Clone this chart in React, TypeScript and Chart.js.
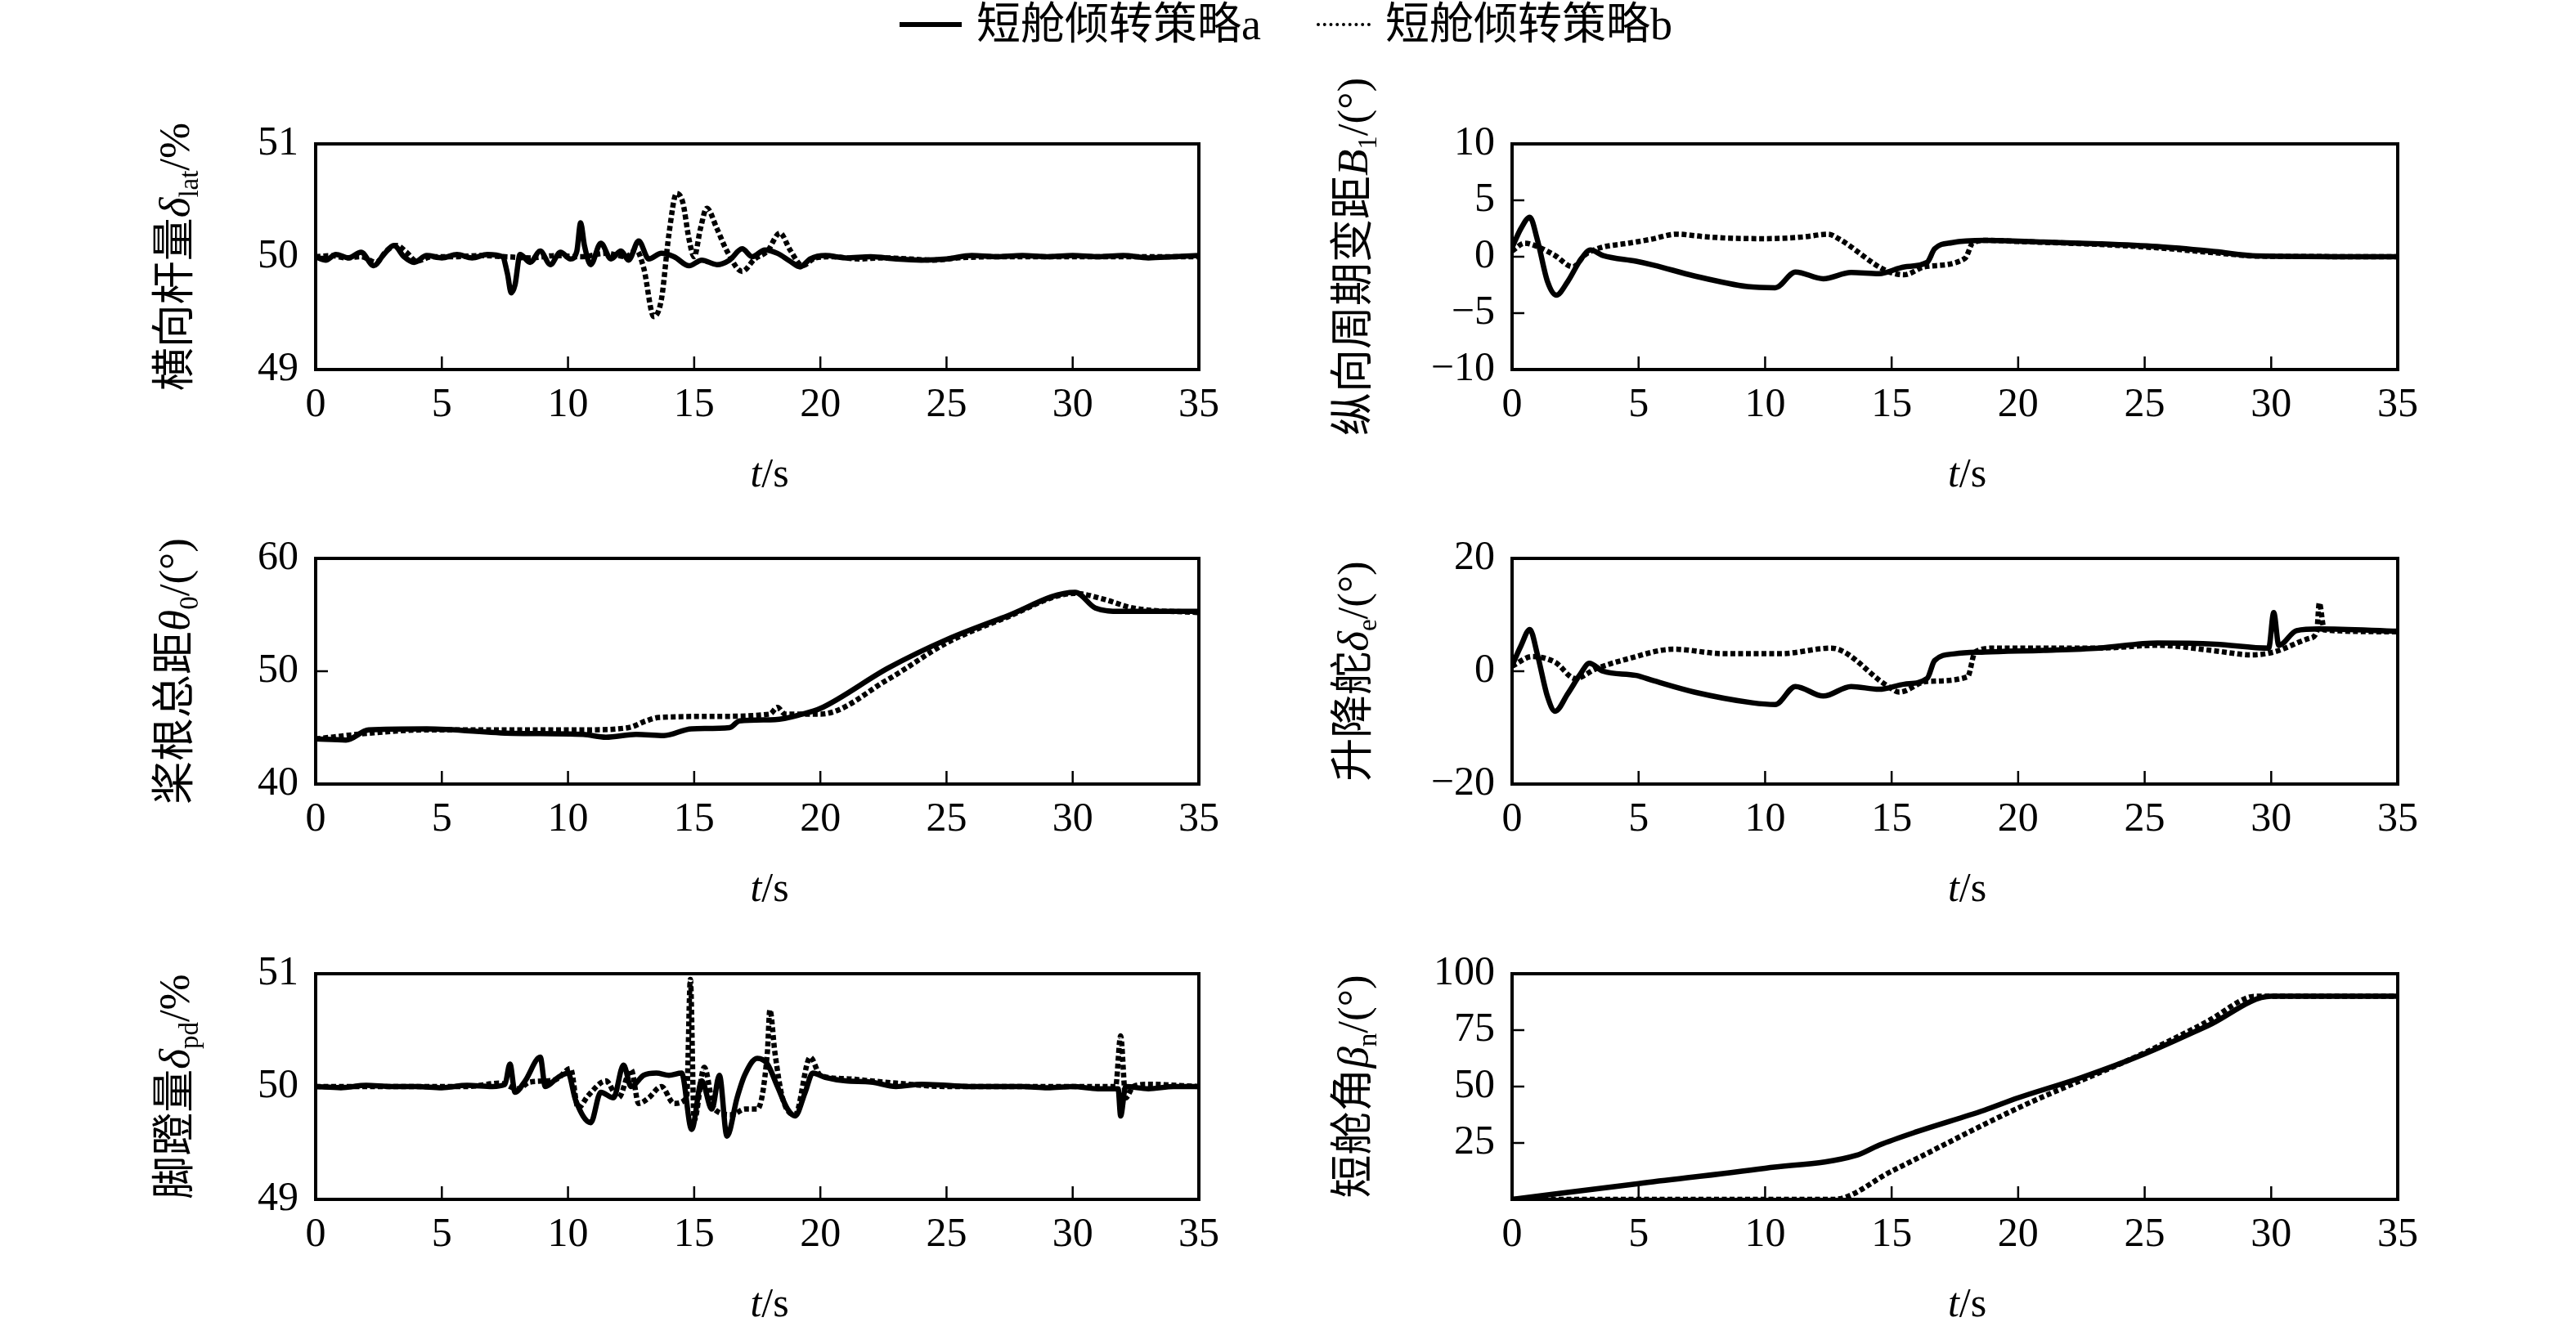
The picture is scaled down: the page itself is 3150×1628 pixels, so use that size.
import React, { useEffect, useRef } from 'react';
import { Chart, registerables } from 'chart.js';

Chart.register(...registerables);

// legend names
const NAME_A = '短舱倾转策略a';
const NAME_B = '短舱倾转策略b';

// 横向杆量 δlat (%) : [t, value]
const latA: [number, number][] = [
  [0, 50.0], [0.4, 49.97], [0.8, 50.02], [1.3, 49.99], [1.8, 50.04], [2.3, 49.92], [2.7, 50.02], [3.1, 50.1],
  [3.5, 50.0], [3.9, 49.95], [4.4, 50.01], [5, 49.99], [5.6, 50.02], [6.2, 49.99], [6.8, 50.02], [7.4, 50.0],
  [7.6, 49.85], [7.75, 49.68], [7.9, 49.75], [8.1, 50.02], [8.5, 49.95], [8.9, 50.05], [9.3, 49.93], [9.7, 50.04],
  [10.1, 49.98], [10.35, 50.05], [10.5, 50.3], [10.65, 50.1], [10.9, 49.93], [11.3, 50.12], [11.7, 49.98],
  [12.1, 50.05], [12.4, 49.97], [12.8, 50.14], [13.2, 49.98], [13.7, 50.03], [14.2, 50.0], [14.8, 49.92],
  [15.3, 49.97], [15.9, 49.93], [16.4, 49.97], [16.9, 50.07], [17.3, 50.0], [17.8, 50.06], [18.3, 50.03],
  [18.8, 49.96], [19.2, 49.91], [19.6, 49.98], [20.2, 50.01], [21, 49.99], [22, 50.0], [23, 49.98], [24, 49.97],
  [25, 49.98], [26, 50.01], [27, 50.0], [28, 50.01], [29, 50.0], [30, 50.01], [31, 50.0], [32, 50.01],
  [33, 49.99], [34, 50.0], [35, 50.01],
];
const latB: [number, number][] = [
  [0, 50.0], [0.6, 50.01], [1.2, 49.99], [1.8, 50.0], [2.4, 49.95], [2.8, 50.05], [3.2, 50.1], [3.6, 50.04],
  [4, 49.96], [4.6, 50.0], [5.5, 50.0], [6.5, 50.01], [7.5, 50.0], [8.5, 49.99], [9.5, 50.01], [10.5, 50.0],
  [11.5, 50.03], [12.3, 50.0], [12.7, 50.06], [13.0, 49.9], [13.4, 49.47], [13.7, 49.62], [14.0, 50.2],
  [14.3, 50.56], [14.55, 50.48], [14.8, 50.15], [15.0, 50.0], [15.25, 50.25], [15.5, 50.43], [15.9, 50.25],
  [16.3, 50.05], [16.9, 49.87], [17.4, 49.98], [17.9, 50.05], [18.4, 50.21], [18.8, 50.06], [19.3, 49.92],
  [19.8, 49.99], [20.5, 50.0], [21.5, 49.98], [22.5, 49.99], [23.5, 49.98], [24.5, 49.97], [25.5, 49.99],
  [27, 50.0], [29, 50.0], [31, 50.0], [33, 50.0], [35, 50.0],
];

// 纵向周期变距 B1 (°)
const b1A: [number, number][] = [
  [0, 0.8], [0.35, 2.5], [0.7, 3.5], [1.0, 1.5], [1.4, -2.2], [1.75, -3.4], [2.2, -2.2], [2.7, -0.3],
  [3.1, 0.6], [3.6, 0.1], [4.9, -0.4], [5.6, -0.75], [7.2, -1.7], [9.3, -2.65], [10.4, -2.75], [11.2, -1.35],
  [12.3, -1.95], [13.4, -1.4], [14.5, -1.5], [15.5, -0.9], [16.4, -0.5], [16.7, 0.7], [17.4, 1.25],
  [18.7, 1.45], [21, 1.3], [23.2, 1.15], [25.5, 0.9], [27.8, 0.45], [29.4, 0.08], [35, 0],
];
const b1B: [number, number][] = [
  [0, 0.5], [0.5, 1.2], [1.0, 0.9], [1.7, 0.1], [2.4, -0.9], [2.9, 0.2], [3.5, 0.8], [4.6, 1.2], [5.5, 1.55],
  [6.5, 2.0], [7.5, 1.8], [8.5, 1.65], [10, 1.6], [11.5, 1.75], [12.5, 2.0], [12.9, 1.6], [14.8, -1.25],
  [15.5, -1.6], [16.3, -0.9], [17.9, -0.15], [18.2, 1.2], [18.8, 1.45], [20, 1.35], [22, 1.2], [24, 1.0],
  [26, 0.7], [28, 0.3], [29.5, 0.05], [35, 0],
];

// 桨根总距 θ0 (°)
const colA: [number, number][] = [
  [0, 44.0], [1.2, 43.9], [2.1, 44.8], [4.4, 44.9], [7.8, 44.5], [10.6, 44.4], [11.5, 44.15], [12.7, 44.4],
  [13.8, 44.3], [14.9, 44.9], [16.4, 45.0], [16.8, 45.6], [18.2, 45.7], [19.3, 46.2], [20, 46.7], [22.7, 50.3],
  [25, 52.8], [27.3, 54.8], [30.1, 57.0], [30.9, 55.6], [31.9, 55.3], [35, 55.3],
];
const colB: [number, number][] = [
  [0, 44.0], [2.1, 44.5], [4.4, 44.8], [10.6, 44.8], [12.4, 45.0], [13.1, 45.6], [13.6, 45.9], [15.9, 46.0],
  [18.0, 46.2], [18.3, 46.8], [18.6, 46.2], [20, 46.2], [22.7, 49.3], [25, 52.5], [27.3, 54.7], [30.1, 56.9],
  [31.2, 56.4], [32.4, 55.6], [35, 55.2],
];

// 升降舵 δe (°)
const eleA: [number, number][] = [
  [0, 1.0], [0.35, 4.5], [0.7, 7.4], [1.0, 3.0], [1.4, -4.5], [1.7, -7.1], [2.2, -4.0], [2.7, -0.5],
  [3.05, 1.4], [3.6, 0], [4.9, -0.75], [5.6, -1.7], [7.2, -3.7], [9.5, -5.6], [10.4, -5.9], [11.2, -2.7],
  [12.3, -4.4], [13.4, -2.7], [14.5, -3.2], [15.5, -2.3], [16.4, -1.3], [16.7, 1.9], [17.5, 3.1], [18.7, 3.4],
  [21, 3.7], [23.2, 4.1], [25.5, 5.0], [27.8, 4.8], [29.9, 4.1], [30.1, 10.4], [30.3, 4.6], [31, 7.2],
  [31.9, 7.5], [35, 7.1],
];
const eleB: [number, number][] = [
  [0, 0.9], [0.8, 2.6], [1.7, 1.6], [2.5, -1.3], [3.3, 0.4], [4.5, 2.1], [6.4, 3.9], [8.4, 3.1], [10.6, 3.1],
  [12.6, 4.1], [14.8, -2.5], [15.3, -3.7], [16.4, -1.8], [18.0, -1.0], [18.3, 3.4], [19.1, 4.1], [23.2, 4.1],
  [25.5, 4.6], [27.8, 3.6], [29.2, 2.9], [30.1, 3.4], [31.5, 5.8], [31.8, 7.0], [31.9, 12.1], [32.1, 7.3],
  [35, 7.0],
];

// 脚蹬量 δpd (%)
const pedA: [number, number][] = [
  [0, 50.0], [1, 49.99], [2, 50.01], [3, 50.0], [4, 50.0], [5, 49.99], [6, 50.01], [7, 50.0], [7.5, 50.02],
  [7.7, 50.2], [7.9, 49.95], [8.3, 50.05], [8.9, 50.26], [9.1, 50.0], [9.6, 50.08], [10.0, 50.12],
  [10.3, 49.88], [10.9, 49.68], [11.3, 49.95], [11.8, 49.9], [12.2, 50.19], [12.5, 50.0], [13, 50.1],
  [13.5, 50.12], [14, 50.1], [14.5, 50.12], [14.9, 49.62], [15.3, 50.05], [15.7, 49.8], [16.0, 50.1],
  [16.3, 49.56], [16.7, 49.9], [17.0, 50.1], [17.5, 50.25], [17.9, 50.2], [18.3, 50.0], [18.7, 49.8],
  [19.0, 49.74], [19.4, 49.95], [19.7, 50.12], [20.2, 50.08], [21, 50.05], [22, 50.04], [23, 50.0],
  [24, 50.02], [25, 50.01], [26, 50.0], [27, 50.0], [28, 50.0], [29, 49.99], [30, 50.0], [31, 49.98],
  [31.8, 49.98], [31.9, 49.74], [32.1, 50.0], [33, 49.98], [34, 50.0], [35, 50.0],
];
const pedB: [number, number][] = [
  [0, 50.0], [2, 50.0], [4, 50.0], [6, 50.0], [7.3, 50.03], [8, 49.98], [8.5, 50.04], [9.5, 50.06],
  [10.1, 50.16], [10.4, 49.81], [10.8, 49.92], [11.5, 50.05], [12.0, 49.9], [12.5, 50.15], [12.8, 49.85],
  [13.2, 49.9], [13.7, 50.0], [14.2, 49.85], [14.7, 49.9], [14.85, 50.95], [15.0, 49.7], [15.4, 50.17],
  [15.8, 49.8], [16.5, 49.75], [17.0, 49.8], [17.5, 49.8], [17.9, 50.3], [18.0, 50.68], [18.2, 50.3],
  [18.5, 49.9], [19.0, 49.75], [19.6, 50.26], [20, 50.1], [21, 50.07], [22, 50.05], [23, 50.03], [25, 50.0],
  [28, 50.0], [30, 50.0], [31.7, 50.0], [31.9, 50.45], [32.1, 49.9], [32.4, 50.0], [33, 50.02], [35, 50.0],
];

// 短舱角 βn (°)
const nacA: [number, number][] = [
  [0, 0], [5, 7], [10, 13.8], [13.6, 19.5], [14.5, 24], [16, 30], [18.66, 39.5], [20, 45], [22.5, 54],
  [25, 64.5], [27.5, 77], [30, 90], [35, 90],
];
const nacB: [number, number][] = [
  [0, 0], [12.7, 0], [15, 12.5], [20, 40.5], [25, 65], [27.5, 79], [29.1, 89.5], [29.5, 90], [35, 90],
];

const X_MIN = 0;
const X_MAX = 35;
const X_STEP = 5;

type Seg = { t: string; it?: boolean; sub?: boolean };

const FONT = '"Liberation Serif", "Times New Roman", "Noto Sans CJK SC", serif';
const X_TITLE: Seg[] = [{ t: 't', it: true }, { t: '/s' }];

function segFont(s: Seg, size: number) {
  return `${s.it ? 'italic ' : ''}${s.sub ? Math.round(size * 0.62) : size}px ${FONT}`;
}

// draws a label made of plain / italic / subscript pieces
function drawRich(ctx: CanvasRenderingContext2D, segs: Seg[], cx: number, cy: number, rotate: boolean, size: number) {
  ctx.save();
  ctx.translate(cx, cy);
  if (rotate) ctx.rotate(-Math.PI / 2);
  ctx.fillStyle = '#000';
  ctx.textBaseline = 'middle';
  ctx.textAlign = 'left';
  let total = 0;
  const widths = segs.map((s) => {
    ctx.font = segFont(s, size);
    const w = ctx.measureText(s.t).width;
    total += w;
    return w;
  });
  let x = -total / 2;
  segs.forEach((s, i) => {
    ctx.font = segFont(s, size);
    ctx.fillText(s.t, x, s.sub ? size * 0.3 : 0);
    x += widths[i];
  });
  ctx.restore();
}

// box frame, inward ticks and the axis titles
const framePlugin = {
  id: 'frame',
  afterDraw(chart: any, _args: any, opts: any) {
    const { ctx, chartArea: a, scales } = chart;
    ctx.save();
    ctx.strokeStyle = '#000';
    ctx.lineWidth = 2.5;
    scales.x.ticks.forEach((t: any) => {
      const px = scales.x.getPixelForValue(t.value);
      ctx.beginPath();
      ctx.moveTo(px, a.bottom);
      ctx.lineTo(px, a.bottom - 16);
      ctx.stroke();
    });
    scales.y.ticks.forEach((t: any) => {
      const py = scales.y.getPixelForValue(t.value);
      ctx.beginPath();
      ctx.moveTo(a.left, py);
      ctx.lineTo(a.left + 15, py);
      ctx.stroke();
    });
    ctx.lineWidth = 4;
    ctx.strokeRect(a.left, a.top, a.right - a.left, a.bottom - a.top);
    ctx.restore();
    drawRich(ctx, opts.yTitle, opts.yTitleX, (a.top + a.bottom) / 2, true, 53);
    drawRich(ctx, X_TITLE, (a.left + a.right) / 2 + 15, a.bottom + 130, false, 50);
  },
};

const CANVAS_W = 1575;
const CANVAS_H = 560;

interface PanelProps {
  a: [number, number][];
  b: [number, number][];
  yMin: number;
  yMax: number;
  yStep: number;
  yTitle: Seg[];
  col: number;
  row: number;
  hideZero?: boolean;
}

function Panel({ a, b, yMin, yMax, yStep, yTitle, col, row, hideZero }: PanelProps) {
  const chartRef = useRef<HTMLCanvasElement | null>(null);

  useEffect(() => {
    if (!chartRef.current) return;
    const padLeft = col === 0 ? 266 : 154;
    const padRight = col === 0 ? 109 : 218;
    const chart = new Chart(chartRef.current, {
      type: 'line',
      data: {
        datasets: [
          {
            label: NAME_A,
            data: a.map(([x, y]) => ({ x, y })),
            borderColor: '#000',
            borderWidth: 6.5,
            pointRadius: 0,
            cubicInterpolationMode: 'monotone',
          },
          {
            label: NAME_B,
            data: b.map(([x, y]) => ({ x, y })),
            borderColor: '#000',
            borderWidth: 6.5,
            borderDash: [6, 3.5],
            pointRadius: 0,
            cubicInterpolationMode: 'monotone',
          },
        ],
      },
      options: {
        responsive: false,
        animation: false,
        devicePixelRatio: 1,
        layout: { padding: { left: padLeft, right: padRight, top: 96, bottom: 88 } },
        plugins: {
          legend: { display: false },
          tooltip: { enabled: false },
          // @ts-ignore
          frame: { yTitle, yTitleX: col === 0 ? 217 : 83 },
        },
        scales: {
          x: {
            type: 'linear',
            min: X_MIN,
            max: X_MAX,
            grid: { display: false, drawTicks: false },
            border: { display: false },
            ticks: {
              stepSize: X_STEP,
              padding: 14,
              color: '#000',
              font: { family: FONT, size: 50 },
              maxRotation: 0,
            },
            afterFit: (scale: any) => {
              scale.height = 100;
            },
          },
          y: {
            type: 'linear',
            min: yMin,
            max: yMax,
            grid: { display: false, drawTicks: false },
            border: { display: false },
            ticks: {
              stepSize: yStep,
              padding: 21,
              color: '#000',
              font: { family: FONT, size: 50 },
              callback: (v: any) => {
                const n = Number(v);
                if (hideZero && n === 0) return '';
                return n < 0 ? '\u2212' + Math.abs(n) : String(n);
              },
            },
            afterFit: (scale: any) => {
              scale.width = 120;
            },
          },
        },
      },
      plugins: [framePlugin],
    } as any);
    return () => chart.destroy();
  }, [a, b, yMin, yMax, yStep, yTitle, col, row, hideZero]);

  const rowTops = [80, 587, 1095];
  return (
    <canvas
      ref={chartRef}
      width={CANVAS_W}
      height={CANVAS_H}
      style={{
        position: 'absolute',
        left: col * CANVAS_W,
        top: rowTops[row],
        width: CANVAS_W,
        height: CANVAS_H,
      }}
    />
  );
}

const legendText: React.CSSProperties = {
  position: 'absolute',
  top: 30,
  transform: 'translateY(-50%)',
  fontFamily: FONT,
  fontSize: 54,
  lineHeight: 1,
  whiteSpace: 'nowrap',
  color: '#000',
};

export default function App() {
  return (
    <div style={{ position: 'absolute', left: 0, top: 0, width: 3150, height: 1628, background: '#fff', overflow: 'hidden' }}>
      <div style={{ position: 'absolute', left: 1100, top: 27, width: 76, borderTop: '6px solid #000' }} />
      <div style={{ ...legendText, left: 1194 }}>{NAME_A}</div>
      <div style={{ position: 'absolute', left: 1610, top: 28, width: 66, borderTop: '4px dotted #000' }} />
      <div style={{ ...legendText, left: 1694 }}>{NAME_B}</div>

      <Panel a={latA} b={latB} yMin={49} yMax={51} yStep={1} col={0} row={0}
        yTitle={[{ t: '横向杆量' }, { t: 'δ', it: true }, { t: 'lat', sub: true }, { t: '/%' }]} />
      <Panel a={b1A} b={b1B} yMin={-10} yMax={10} yStep={5} col={1} row={0}
        yTitle={[{ t: '纵向周期变距' }, { t: 'B', it: true }, { t: '1', sub: true }, { t: '/(°)' }]} />
      <Panel a={colA} b={colB} yMin={40} yMax={60} yStep={10} col={0} row={1}
        yTitle={[{ t: '桨根总距' }, { t: 'θ', it: true }, { t: '0', sub: true }, { t: '/(°)' }]} />
      <Panel a={eleA} b={eleB} yMin={-20} yMax={20} yStep={20} col={1} row={1}
        yTitle={[{ t: '升降舵' }, { t: 'δ', it: true }, { t: 'e', sub: true }, { t: '/(°)' }]} />
      <Panel a={pedA} b={pedB} yMin={49} yMax={51} yStep={1} col={0} row={2}
        yTitle={[{ t: '脚蹬量' }, { t: 'δ', it: true }, { t: 'pd', sub: true }, { t: '/%' }]} />
      <Panel a={nacA} b={nacB} yMin={0} yMax={100} yStep={25} col={1} row={2} hideZero
        yTitle={[{ t: '短舱角' }, { t: 'β', it: true }, { t: 'n', sub: true }, { t: '/(°)' }]} />
    </div>
  );
}
